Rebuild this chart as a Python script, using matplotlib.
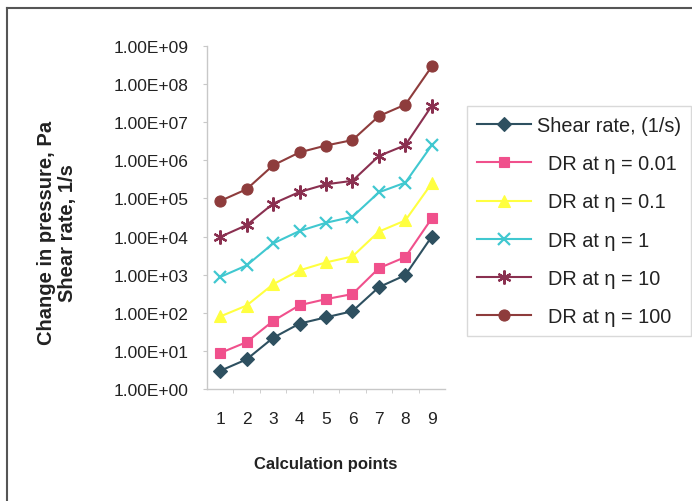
import matplotlib
matplotlib.use("Agg")
import matplotlib.pyplot as plt
from matplotlib.ticker import FixedLocator, FuncFormatter, NullFormatter
from matplotlib.lines import Line2D

plt.rcParams['font.family'] = ['Liberation Sans', 'DejaVu Sans']

points = [1, 2, 3, 4, 5, 6, 7, 8, 9]
shear_rate = [3.0, 6.0, 22, 52, 76, 110, 470, 970, 10000]
dr_eta_001 = [8.8, 17, 61, 158, 228, 310, 1480, 2900, 30000]
dr_eta_01 = [80, 155, 560, 1300, 2100, 3000, 13500, 26500, 250000]
dr_eta_1 = [870, 1750, 6600, 14000, 23000, 33000, 145000, 260000, 2.5e6]
dr_eta_10 = [9800, 20000, 73000, 148000, 235000, 290000, 1.3e6, 2.5e6, 2.7e7]
dr_eta_100 = [86000, 175000, 740000, 1.62e6, 2.45e6, 3.4e6, 1.45e7, 2.9e7, 2.9e8]

labels = ["Shear rate, (1/s)", "  DR at \u03b7 = 0.01", "  DR at \u03b7 = 0.1",
          "  DR at \u03b7 = 1", "  DR at \u03b7 = 10", "  DR at \u03b7 = 100"]
series = [shear_rate, dr_eta_001, dr_eta_01, dr_eta_1, dr_eta_10, dr_eta_100]
colors = ["#2e5060", "#f0508c", "#ffff40", "#40c8d0", "#8a3050", "#8e3c3c"]
markers = ["D", "s", "^", "x", (6, 2, 0), "o"]
msizes = [7.5, 7.5, 8, 8, 10, 8]

W, H = 692, 502
fig = plt.figure(figsize=(W / 100, H / 100), dpi=100)
ax = fig.add_axes([207 / W, 1 - 390 / H, (445 - 207) / W, (390 - 47) / H])

for vals, lab, c, m, ms in zip(series, labels, colors, markers, msizes):
    ax.plot(points, vals, color=c, lw=1.5, marker=m, ms=ms,
            markeredgewidth=1.6 if m in ("x", (6, 2, 0)) else 0.8,
            markeredgecolor=c, markerfacecolor=c, label=lab)

ax.set_yscale('log')
ax.set_ylim(1, 1e9)
ax.set_xlim(0.5, 9.5)
ax.yaxis.set_major_locator(FixedLocator([10.0 ** k for k in range(10)]))
ax.yaxis.set_minor_formatter(NullFormatter())
ax.yaxis.set_minor_locator(FixedLocator([]))
ax.yaxis.set_major_formatter(FuncFormatter(lambda v, p: f"{v:.2E}"))
ax.set_xticks(points)
ax.set_xticklabels([str(p) for p in points])
ax.xaxis.set_minor_locator(FixedLocator([p + 0.5 for p in points[:-1]]))

ax.tick_params(axis='y', which='major', length=3, color='#c8c8c8', pad=10,
               labelsize=12.5, labelcolor='#222222')
ax.tick_params(axis='x', which='major', length=0, pad=15.5, labelsize=12.5,
               labelcolor='#222222')
ax.tick_params(axis='x', which='minor', length=3, color='#c8c8c8')

for s in ('top', 'right'):
    ax.spines[s].set_visible(False)
for s in ('left', 'bottom'):
    ax.spines[s].set_color('#c8c8c8')
    ax.spines[s].set_linewidth(1.0)

ax.set_xlabel("Calculation points", fontsize=12, fontweight='bold',
              color='#222222', labelpad=22)
fig.text(47 / W, 1 - 233 / H, "Change in pressure, Pa", rotation=90,
         ha='center', va='center', fontsize=14.5, fontweight='bold', color='#222222')
fig.text(68 / W, 1 - 233 / H, "Shear rate, 1/s", rotation=90,
         ha='center', va='center', fontsize=14.5, fontweight='bold', color='#222222')

leg = fig.legend(loc='upper left', bbox_to_anchor=(467 / W, 1 - 107 / H),
                 fontsize=14.3, frameon=True, fancybox=False, handlelength=2.7,
                 handletextpad=0.3, labelspacing=0.97, borderpad=0.5,
                 borderaxespad=0)
leg.get_frame().set_edgecolor('#d0d0d0')
leg.get_frame().set_linewidth(1.0)
for t in leg.get_texts():
    t.set_color('#222222')

# outer chart frame
fig.add_artist(Line2D([7 / W, 7 / W], [0, 1 - 9 / H], transform=fig.transFigure,
                      color='#555555', lw=1.5))
fig.add_artist(Line2D([7 / W, 1], [1 - 9 / H, 1 - 9 / H], transform=fig.transFigure,
                      color='#555555', lw=1.5))

fig.savefig("out.png", dpi=100)
